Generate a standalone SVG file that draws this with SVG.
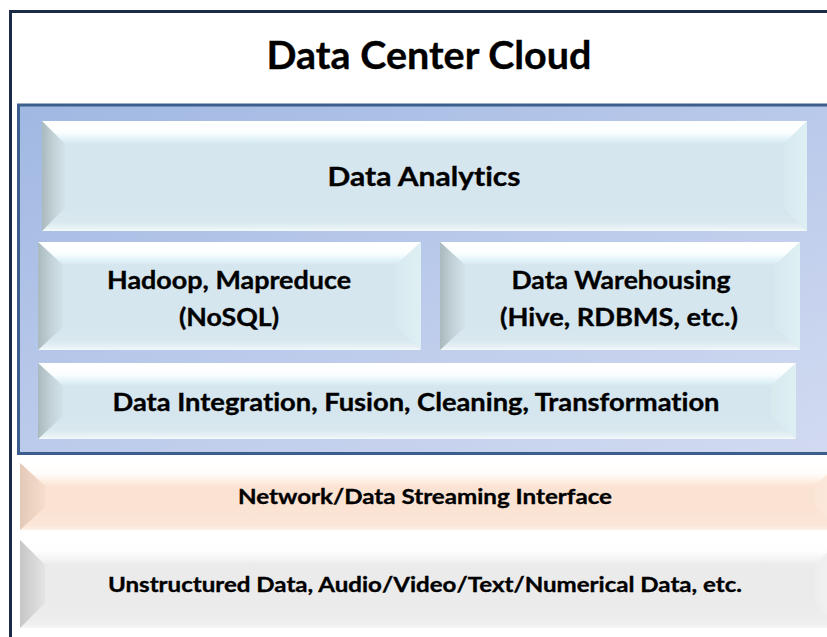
<svg xmlns="http://www.w3.org/2000/svg" width="827" height="637" viewBox="0 0 827 637">
  <defs>
    <!-- panel background -->
    <linearGradient id="panelFill" x1="0" y1="0" x2="1" y2="1">
      <stop offset="0" stop-color="#a0b8e2"/>
      <stop offset="0.5" stop-color="#bccbeb"/>
      <stop offset="1" stop-color="#d4dcf1"/>
    </linearGradient>
    <!-- blue bevel parts -->
    <linearGradient id="bTop" x1="0" y1="0" x2="0" y2="1">
      <stop offset="0" stop-color="#ffffff"/>
      <stop offset="0.5" stop-color="#fbfeff"/>
      <stop offset="0.78" stop-color="#e2f4f9"/>
      <stop offset="1" stop-color="#d6e6ee"/>
    </linearGradient>
    <linearGradient id="bBot" x1="0" y1="0" x2="0" y2="1">
      <stop offset="0" stop-color="#d6e6ee"/>
      <stop offset="0.6" stop-color="#d9e8ef"/>
      <stop offset="0.85" stop-color="#e6f1f5"/>
      <stop offset="1" stop-color="#f4f9fb"/>
    </linearGradient>
    <linearGradient id="bLeft" x1="0" y1="0" x2="1" y2="0">
      <stop offset="0" stop-color="#a9b9bd"/>
      <stop offset="0.5" stop-color="#c1d1d6"/>
      <stop offset="1" stop-color="#d3e3ea"/>
    </linearGradient>
    <linearGradient id="bRight" x1="0" y1="0" x2="1" y2="0">
      <stop offset="0" stop-color="#d8e9ef"/>
      <stop offset="1" stop-color="#dff0f4"/>
    </linearGradient>
    <!-- peach bevel parts -->
    <linearGradient id="oTop" x1="0" y1="0" x2="0" y2="1">
      <stop offset="0" stop-color="#ffffff"/>
      <stop offset="0.45" stop-color="#fffdfb"/>
      <stop offset="0.8" stop-color="#fdeee2"/>
      <stop offset="1" stop-color="#fbe3d3"/>
    </linearGradient>
    <linearGradient id="oBot" x1="0" y1="0" x2="0" y2="1">
      <stop offset="0" stop-color="#fbe3d3"/>
      <stop offset="0.8" stop-color="#fbe6d8"/>
      <stop offset="1" stop-color="#fdf1e9"/>
    </linearGradient>
    <linearGradient id="oLeft" x1="0" y1="0" x2="1" y2="0">
      <stop offset="0" stop-color="#e2c9b8"/>
      <stop offset="1" stop-color="#f6ddcc"/>
    </linearGradient>
    <linearGradient id="oRight" x1="0" y1="0" x2="1" y2="0">
      <stop offset="0" stop-color="#fbe6d8"/>
      <stop offset="1" stop-color="#fdeadf"/>
    </linearGradient>
    <!-- grey bevel parts -->
    <linearGradient id="gTop" x1="0" y1="0" x2="0" y2="1">
      <stop offset="0" stop-color="#ffffff"/>
      <stop offset="0.45" stop-color="#fdfdfd"/>
      <stop offset="0.8" stop-color="#f3f3f3"/>
      <stop offset="1" stop-color="#ebebeb"/>
    </linearGradient>
    <linearGradient id="gBot" x1="0" y1="0" x2="0" y2="1">
      <stop offset="0" stop-color="#ebebeb"/>
      <stop offset="0.8" stop-color="#eeeeee"/>
      <stop offset="1" stop-color="#f6f6f6"/>
    </linearGradient>
    <linearGradient id="gLeft" x1="0" y1="0" x2="1" y2="0">
      <stop offset="0" stop-color="#c6c6c6"/>
      <stop offset="1" stop-color="#e4e4e4"/>
    </linearGradient>
    <linearGradient id="gRight" x1="0" y1="0" x2="1" y2="0">
      <stop offset="0" stop-color="#eeeeee"/>
      <stop offset="1" stop-color="#f2f2f2"/>
    </linearGradient>
  </defs>
  <style>
    .lbl { font-family: Lato, "Liberation Sans", "DejaVu Sans", sans-serif; font-weight: bold; fill: #000; stroke: #000; stroke-width: 0.35; text-anchor: middle; font-variant-ligatures: none; }
    .bface { fill: #d6e6ee; }
    .oface { fill: #fbe3d3; }
    .gface { fill: #ebebeb; }
  </style>

  <rect width="827" height="637" fill="#ffffff"/>

  <!-- outer frame -->
  <rect id="frame" x="10.5" y="11.5" width="900" height="700" fill="none" stroke="#1b2a47" stroke-width="3"/>

  <!-- title -->
  <g id="title">
    <text class="lbl" x="429" y="69" font-size="39" textLength="325" lengthAdjust="spacingAndGlyphs">Data Center Cloud</text>
  </g>

  <!-- cloud panel -->
  <rect id="panel" x="18.5" y="105" width="900" height="348.5" fill="url(#panelFill)" stroke="#3b5e8c" stroke-width="3"/>

  <!-- Data Analytics: x=42 y=121 w=765 h=110 d=23 -->
  <g id="analytics">
    <rect class="bface" x="42" y="121" width="765" height="110"/>
    <polygon fill="url(#bTop)" points="42,121 807,121 784,144 65,144"/>
    <polygon fill="url(#bBot)" points="65,208 784,208 807,231 42,231"/>
    <polygon fill="url(#bLeft)" points="42,121 65,144 65,208 42,231"/>
    <polygon fill="url(#bRight)" points="807,121 784,144 784,208 807,231"/>
    <text class="lbl" x="424" y="186" font-size="27" textLength="193" lengthAdjust="spacingAndGlyphs">Data Analytics</text>
  </g>

  <!-- Hadoop: x=38 y=242 w=383 h=108 d=25 -->
  <g id="hadoop">
    <rect class="bface" x="38" y="242" width="383" height="108"/>
    <polygon fill="url(#bTop)" points="38,242 421,242 396,265 63,265"/>
    <polygon fill="url(#bBot)" points="63,327 396,327 421,350 38,350"/>
    <polygon fill="url(#bLeft)" points="38,242 63,265 63,327 38,350"/>
    <polygon fill="url(#bRight)" points="421,242 396,265 396,327 421,350"/>
    <text class="lbl" x="229" y="289" font-size="24" textLength="244" lengthAdjust="spacingAndGlyphs">Hadoop,  Mapreduce</text>
    <text class="lbl" x="229" y="326" font-size="24" textLength="100" lengthAdjust="spacingAndGlyphs">(NoSQL)</text>
  </g>

  <!-- Data Warehousing: x=440 y=242 w=360 h=108 d=25 -->
  <g id="warehousing">
    <rect class="bface" x="440" y="242" width="360" height="108"/>
    <polygon fill="url(#bTop)" points="440,242 800,242 775,265 465,265"/>
    <polygon fill="url(#bBot)" points="465,327 775,327 800,350 440,350"/>
    <polygon fill="url(#bLeft)" points="440,242 465,265 465,327 440,350"/>
    <polygon fill="url(#bRight)" points="800,242 775,265 775,327 800,350"/>
    <text class="lbl" x="621" y="289" font-size="24" textLength="219" lengthAdjust="spacingAndGlyphs">Data Warehousing</text>
    <text class="lbl" x="619" y="326" font-size="24" textLength="238" lengthAdjust="spacingAndGlyphs">(Hive, RDBMS, etc.)</text>
  </g>

  <!-- Data Integration: x=38 y=363 w=758 h=76 d=25 -->
  <g id="integration">
    <rect class="bface" x="38" y="363" width="758" height="76"/>
    <polygon fill="url(#bTop)" points="38,363 796,363 771,386 63,386"/>
    <polygon fill="url(#bBot)" points="63,416 771,416 796,439 38,439"/>
    <polygon fill="url(#bLeft)" points="38,363 63,386 63,416 38,439"/>
    <polygon fill="url(#bRight)" points="796,363 771,386 771,416 796,439"/>
    <text class="lbl" x="416" y="411" font-size="24" textLength="607" lengthAdjust="spacingAndGlyphs">Data Integration, Fusion,  Cleaning,  Transformation</text>
  </g>

  <!-- Network / streaming: x=20 y=463 w=820 h=67 d=25 -->
  <g id="network">
    <rect class="oface" x="20" y="463" width="820" height="67"/>
    <polygon fill="url(#oTop)" points="20,463 840,463 815,486 45,486"/>
    <polygon fill="url(#oBot)" points="45,507 815,507 840,530 20,530"/>
    <polygon fill="url(#oLeft)" points="20,463 45,486 45,507 20,530"/>
    <polygon fill="url(#oRight)" points="840,463 815,486 815,507 840,530"/>
    <text class="lbl" x="425" y="504" font-size="21" textLength="374" lengthAdjust="spacingAndGlyphs">Network/Data Streaming Interface</text>
  </g>

  <!-- Unstructured data: x=20 y=540 w=820 h=88 d=25 -->
  <g id="sources">
    <rect class="gface" x="20" y="540" width="820" height="88"/>
    <polygon fill="url(#gTop)" points="20,540 840,540 815,565 45,565"/>
    <polygon fill="url(#gBot)" points="45,603 815,603 840,628 20,628"/>
    <polygon fill="url(#gLeft)" points="20,540 45,565 45,603 20,628"/>
    <polygon fill="url(#gRight)" points="840,540 815,565 815,603 840,628"/>
    <text class="lbl" x="425" y="592" font-size="21" textLength="634" lengthAdjust="spacingAndGlyphs">Unstructured Data, Audio/Video/Text/Numerical Data, etc.</text>
  </g>
</svg>
